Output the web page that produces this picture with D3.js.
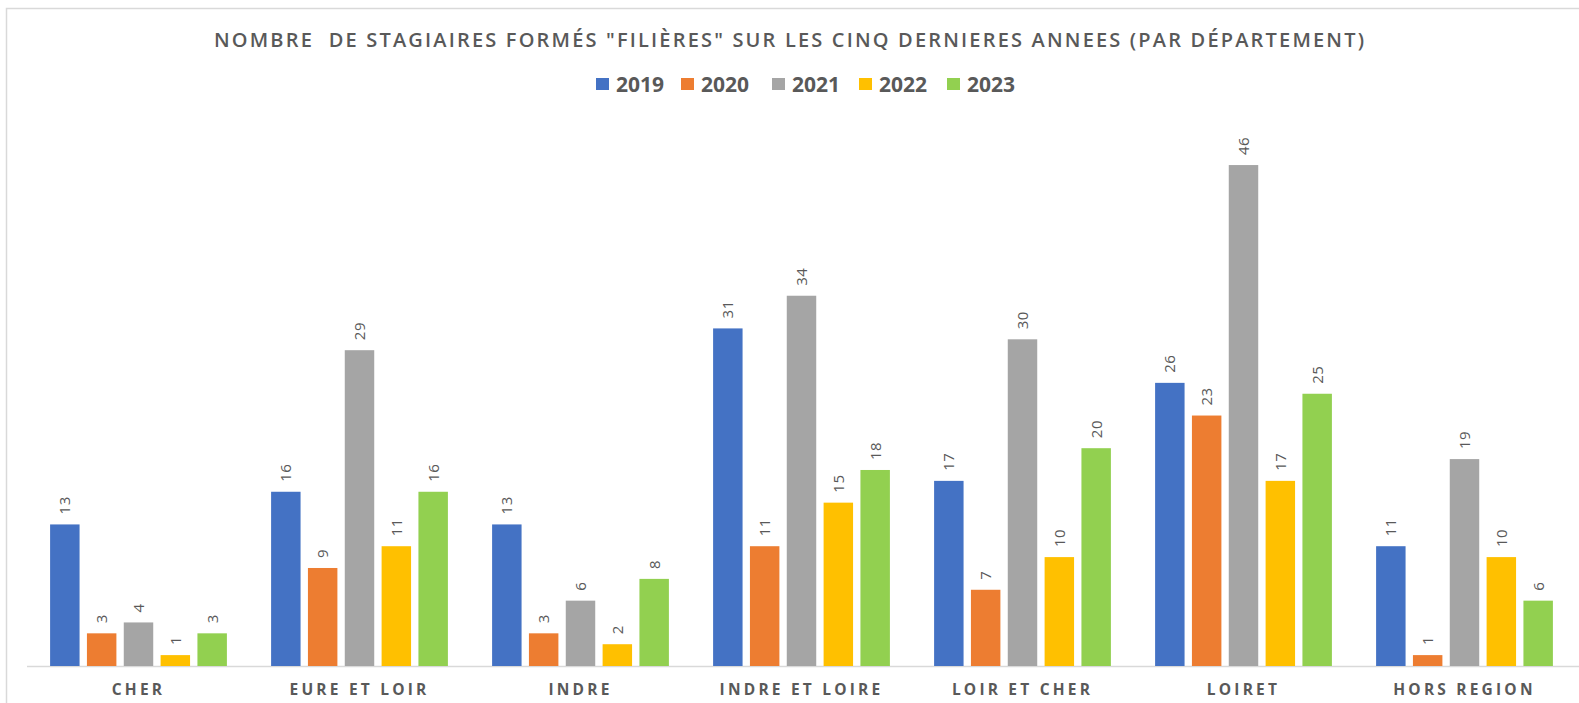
<!DOCTYPE html>
<html>
<head>
<meta charset="utf-8">
<script src="https://cdn.jsdelivr.net/npm/d3@7"></script>
<style>
	body { margin: 0; background: #fff; }
	svg { display: block; font-family: "Open Sans", "DejaVu Sans", sans-serif; }
</style>
</head>
<body>
<div id="chart"></div>
<script>
var departements = ["CHER", "EURE ET LOIR", "INDRE", "INDRE ET LOIRE", "LOIR ET CHER", "LOIRET", "HORS REGION"];
var annees = ["2019", "2020", "2021", "2022", "2023"];
var v2019 = [13, 16, 13, 31, 17, 26, 11];
var v2020 = [3, 9, 3, 11, 7, 23, 1];
var v2021 = [4, 29, 6, 34, 30, 46, 19];
var v2022 = [1, 11, 2, 15, 10, 17, 10];
var v2023 = [3, 16, 8, 18, 20, 25, 6];
var couleurs = ["#4472C4", "#ED7D31", "#A5A5A5", "#FFC000", "#92D050"];
var titre = "NOMBRE  DE STAGIAIRES FORMÉS \"FILIÈRES\" SUR LES CINQ DERNIERES ANNEES (PAR DÉPARTEMENT)";

var series = [v2019, v2020, v2021, v2022, v2023];
var rows = departements.map(function(d, i) {
	return { dep: d, values: annees.map(function(a, j) { return { annee: a, value: series[j][i] }; }) };
});

var W = 1579, H = 703,
	baseline = 666;

var svg = d3.select("#chart").append("svg")
	.attr("width", W)
	.attr("height", H);

// chart area border (top and left visible)
svg.append("rect")
	.attr("x", 6.5).attr("y", 8.5)
	.attr("width", W + 20).attr("height", H + 20)
	.attr("fill", "#fff")
	.attr("stroke", "#d9d9d9")
	.attr("stroke-width", 1.5);

var x0 = d3.scaleBand()
	.domain(departements)
	.range([28, 1575])
	.paddingInner(0.2)
	.paddingOuter(0.1);

var x1 = d3.scaleBand()
	.domain(annees)
	.range([0, x0.bandwidth()])
	.paddingInner(0.2);

var y = d3.scaleLinear()
	.domain([0, 50])
	.range([baseline, baseline - 544.5]);

var color = d3.scaleOrdinal().domain(annees).range(couleurs);

// title
svg.append("text")
	.attr("x", 789)
	.attr("y", 47)
	.attr("text-anchor", "middle")
	.attr("fill", "#595959")
	.attr("font-size", 20)
	.attr("font-weight", 600)
	.attr("textLength", 1150)
	.attr("lengthAdjust", "spacing")
	.style("white-space", "pre")
	.text(titre);

// legend
var legendX = [596, 681, 772, 859, 947];
var legend = svg.append("g").attr("class", "legend")
	.selectAll("g")
	.data(annees)
	.enter().append("g")
	.attr("transform", function(d, i) { return "translate(" + legendX[i] + ",78)"; });
legend.append("rect")
	.attr("width", 13).attr("height", 12)
	.attr("fill", function(d) { return color(d); });
legend.append("text")
	.attr("x", 20)
	.attr("y", 13.5)
	.attr("fill", "#595959")
	.attr("font-size", 21)
	.attr("font-weight", 700)
	.text(function(d) { return d; });

// axis line
svg.append("line")
	.attr("x1", 27).attr("x2", W)
	.attr("y1", baseline + 0.5).attr("y2", baseline + 0.5)
	.attr("stroke", "#d9d9d9")
	.attr("stroke-width", 1.5);

// bars
var groups = svg.append("g").attr("class", "bars")
	.selectAll("g")
	.data(rows)
	.enter().append("g")
	.attr("transform", function(d) { return "translate(" + x0(d.dep) + ",0)"; });

groups.selectAll("rect")
	.data(function(d) { return d.values; })
	.enter().append("rect")
	.attr("x", function(d) { return x1(d.annee); })
	.attr("y", function(d) { return y(d.value); })
	.attr("width", x1.bandwidth())
	.attr("height", function(d) { return baseline - y(d.value); })
	.attr("fill", function(d) { return color(d.annee); });

// value labels, rotated
groups.selectAll("text.val")
	.data(function(d) { return d.values; })
	.enter().append("text")
	.attr("class", "val")
	.attr("transform", function(d) {
		return "translate(" + (x1(d.annee) + x1.bandwidth() / 2 + 5.5) + "," + (y(d.value) - 10) + ") rotate(-90)";
	})
	.attr("fill", "#595959")
	.attr("font-size", 15)
	.attr("letter-spacing", 0.5)
	.text(function(d) { return d.value; });

// category labels
var xAxis = d3.axisBottom(x0).tickSize(0).tickPadding(0);
var axisG = svg.append("g")
	.attr("transform", "translate(0," + baseline + ")")
	.call(xAxis);
axisG.select(".domain").remove();
axisG.selectAll("text")
	.attr("dy", null)
	.attr("y", 28.5)
	.attr("fill", "#595959")
	.attr("font-size", 15.5)
	.attr("font-weight", 700)
	.attr("letter-spacing", 3.2)
	.attr("font-family", "\"Open Sans\", sans-serif");
</script>
</body>
</html>
